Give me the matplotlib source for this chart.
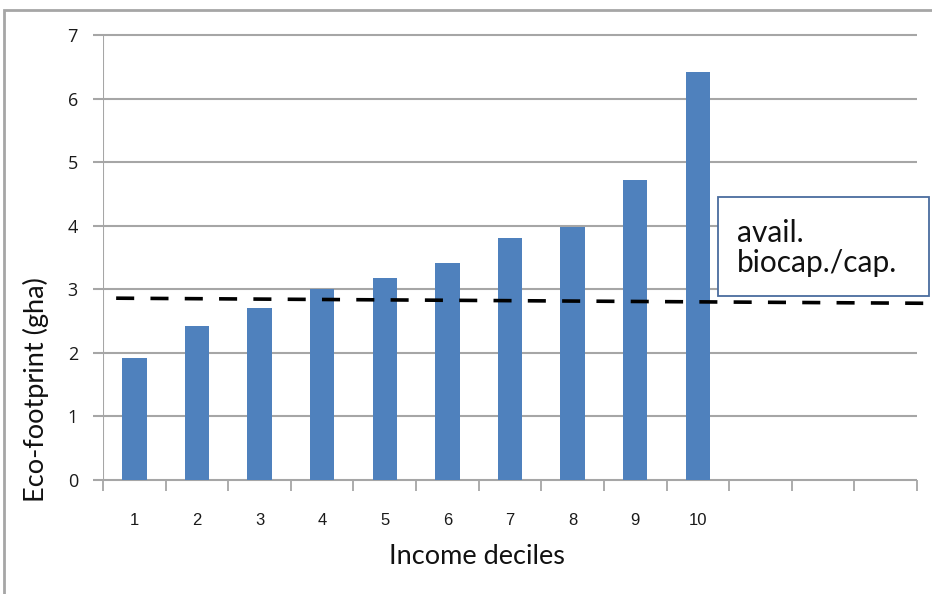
import numpy as np
import matplotlib.pyplot as plt
from matplotlib.patches import Rectangle

# eco-footprint per income decile (gha)
deciles = ['1', '2', '3', '4', '5', '6', '7', '8', '9', '10']
footprint = [1.92, 2.42, 2.70, 3.00, 3.17, 3.41, 3.80, 3.98, 4.72, 6.42]
n_slots = 13  # category axis keeps three empty slots on the right

# available biocapacity per capita, drawn as a sloping dashed line
biocap_x = [-0.29, 12.6]
biocap_y = [2.86, 2.78]

bar_color = '#4F81BD'
grid_color = '#A6A6A6'

fig = plt.figure(figsize=(9.32, 5.94), dpi=100)
ax = fig.add_axes([103/932, 1-480/594, (917-103)/932, (480-35)/594])

x = np.arange(len(deciles))
ax.bar(x, footprint, width=0.39, color=bar_color, zorder=3)

ax.set_xlim(-0.5, n_slots-0.5)
ax.set_ylim(0, 7)

# horizontal gridlines, running a little left of the axis like tick marks
for yv in range(0, 8):
    ax.plot([-0.66, n_slots-0.5], [yv, yv], color=grid_color, lw=1.5,
            clip_on=False, zorder=1, solid_capstyle='butt')
ax.axvline(-0.5, color=grid_color, lw=1.5, zorder=2)

for s in ax.spines.values():
    s.set_visible(False)

ax.set_yticks(range(0, 8))
ax.tick_params(axis='y', length=0, pad=18, labelsize=13, labelcolor='#1a1a1a')
for lab in ax.get_yticklabels():
    lab.set_family('Open Sans')

ax.set_xticks(x)
ax.set_xticklabels(deciles, family='Liberation Sans', fontsize=12, color='#1a1a1a')
ax.set_xticks(np.arange(-0.5, n_slots), minor=True)
ax.tick_params(axis='x', which='major', length=0, pad=24)
ax.tick_params(axis='x', which='minor', length=8, width=1.3, color=grid_color)

ax.plot(biocap_x, biocap_y, color='black', lw=2.6, dashes=(5, 4.5),
        clip_on=False, zorder=4)

fig.text(477/932, 1-557/594, 'Income deciles', family='Lato', fontsize=19.5,
         ha='center', va='center', color='#111111')
fig.text(36/932, 1-390/594, 'Eco-footprint (gha)', family='Lato', fontsize=19.5,
         rotation=90, ha='center', va='center', color='#111111')

# label box for the dashed line
fig.patches.append(Rectangle((718/932, 1-296/594), (929-718)/932, (296-197)/594,
                             transform=fig.transFigure, facecolor='white',
                             edgecolor='#4A6C9E', lw=1.3, zorder=5))
fig.text(737/932, 1-248/594, 'avail.\nbiocap./cap.', family='Lato', fontsize=21.5,
         ha='left', va='center', linespacing=1.1, color='#111111', zorder=6)

# chart area frame
fig.patches.append(Rectangle((4/932, -0.1), 1.5, 1.1-10/594,
                             transform=fig.transFigure, facecolor='none',
                             edgecolor='#A6A6A6', lw=2))

fig.savefig('out.png', dpi=100)
